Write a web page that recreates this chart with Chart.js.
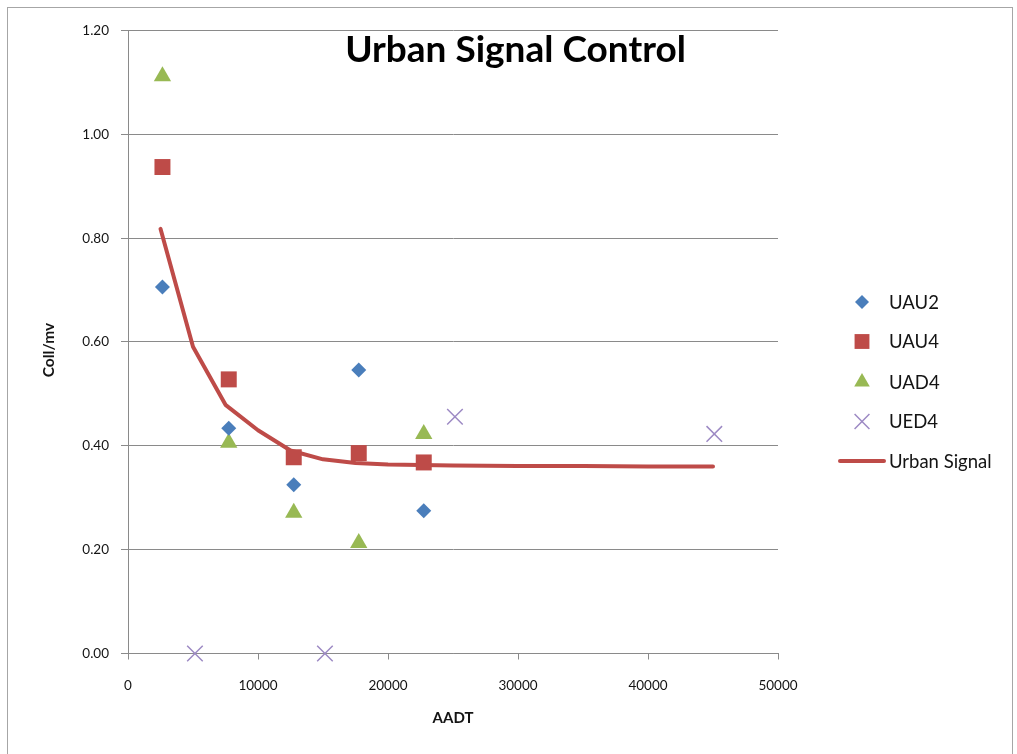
<!DOCTYPE html>
<html>
<head>
<meta charset="utf-8">
<script src="https://cdn.jsdelivr.net/npm/chart.js@4/dist/chart.umd.min.js"></script>
<style>
  html, body { margin: 0; padding: 0; background: #ffffff; }
  #wrap { width: 1017px; height: 754px; position: relative; }
</style>
</head>
<body>
<div id="wrap"><canvas id="chart" width="1017" height="754"></canvas></div>
<script>
// Observed collision rates (collisions per million vehicles) by AADT group
const uau2X = [2650, 7750, 12750, 17750, 22750];
const uau2Y = [0.706, 0.434, 0.325, 0.546, 0.275];

const uau4X = [2650, 7750, 12750, 17750, 22750];
const uau4Y = [0.937, 0.528, 0.378, 0.386, 0.368];

const uad4X = [2650, 7750, 12750, 17750, 22750];
const uad4Y = [1.112, 0.406, 0.271, 0.213, 0.423];

const ued4X = [5150, 15150, 25150, 45100];
const ued4Y = [0.0, 0.0, 0.456, 0.423];

// Fitted urban signal curve
const curveX = [2500, 5000, 7500, 10000, 12500, 15000, 17500, 20000, 22500, 25000, 30000, 35000, 40000, 45000];
const curveY = [0.818, 0.591, 0.479, 0.430, 0.391, 0.374, 0.367, 0.364, 0.363, 0.362, 0.361, 0.361, 0.360, 0.360];

const xTickLabels = ['0', '10000', '20000', '30000', '40000', '50000'];
const yTickLabels = ['0.00', '0.20', '0.40', '0.60', '0.80', '1.00', '1.20'];

const chartTitle = 'Urban Signal Control';
const xTitle = 'AADT';
const yTitle = 'Coll/mv';

const pts = (xs, ys) => xs.map((x, i) => ({ x: x, y: ys[i] }));

const FONT = 'Lato, "Open Sans", sans-serif';
const TEXT = '#141414';
const GRID = '#8a8a8a';

// Frame around the whole chart, the title inside the plot and the vertical axis title
const framePlugin = {
  id: 'frame',
  beforeDraw(chart) {
    const ctx = chart.ctx;
    ctx.save();
    ctx.fillStyle = '#ffffff';
    ctx.fillRect(0, 0, chart.width, chart.height);
    ctx.strokeStyle = '#a6a6a6';
    ctx.lineWidth = 1;
    ctx.strokeRect(7.5, 7.5, 1005, 770);
    ctx.restore();
  },
  afterDraw(chart) {
    const ctx = chart.ctx;
    ctx.save();
    ctx.fillStyle = '#000000';
    ctx.font = 'bold 37px ' + FONT;
    ctx.textAlign = 'center';
    ctx.textBaseline = 'alphabetic';
    ctx.fillText(chartTitle, 515.5, 62);

    ctx.translate(49, 350);
    ctx.rotate(-Math.PI / 2);
    ctx.font = 'bold 15.5px ' + FONT;
    ctx.fillStyle = TEXT;
    ctx.textBaseline = 'middle';
    ctx.fillText(yTitle, 0, 0);
    ctx.restore();
  }
};

// Legend on the right, one row per dataset
const legendPlugin = {
  id: 'sideLegend',
  afterDraw(chart) {
    const ctx = chart.ctx;
    const rows = [302, 341.5, 382, 421.5, 461];
    ctx.save();
    ctx.font = '18.5px ' + FONT;
    ctx.fillStyle = TEXT;
    ctx.textBaseline = 'middle';
    ctx.textAlign = 'left';
    chart.data.datasets.forEach((ds, i) => {
      const y = rows[i];
      if (ds.showLine) {
        ctx.save();
        ctx.strokeStyle = ds.borderColor;
        ctx.lineWidth = ds.borderWidth;
        ctx.lineCap = 'round';
        ctx.beginPath();
        ctx.moveTo(840, y);
        ctx.lineTo(884, y);
        ctx.stroke();
        ctx.restore();
      } else {
        ctx.save();
        ctx.fillStyle = ds.backgroundColor;
        ctx.strokeStyle = ds.borderColor;
        ctx.lineWidth = ds.borderWidth;
        Chart.helpers.drawPoint(ctx, {
          pointStyle: ds.pointStyle,
          radius: ds.legendRadius,
          rotation: 0,
          borderWidth: ds.borderWidth
        }, 862, y);
        ctx.restore();
      }
      ctx.fillStyle = TEXT;
      ctx.fillText(ds.label, 889, y + 1);
    });
    ctx.restore();
  }
};

new Chart(document.getElementById('chart'), {
  type: 'scatter',
  data: {
    datasets: [
      {
        label: 'UAU2', data: pts(uau2X, uau2Y),
        pointStyle: 'rectRot', pointRadius: 7.5, pointHoverRadius: 7.5, legendRadius: 7,
        backgroundColor: '#4a7ebb', borderColor: '#4a7ebb', borderWidth: 0,
        clip: false, order: 1
      },
      {
        label: 'UAU4', data: pts(uau4X, uau4Y),
        pointStyle: 'rect', pointRadius: 11.3, pointHoverRadius: 11.3, legendRadius: 10.5,
        backgroundColor: '#be4b48', borderColor: '#be4b48', borderWidth: 0,
        clip: false, order: 1
      },
      {
        label: 'UAD4', data: pts(uad4X, uad4Y),
        pointStyle: 'triangle', pointRadius: 10, pointHoverRadius: 10, legendRadius: 9,
        backgroundColor: '#98b954', borderColor: '#98b954', borderWidth: 0,
        clip: false, order: 1
      },
      {
        label: 'UED4', data: pts(ued4X, ued4Y),
        pointStyle: 'crossRot', pointRadius: 11, pointHoverRadius: 11, legendRadius: 10.5,
        backgroundColor: '#9d8ac4', borderColor: '#9d8ac4', borderWidth: 1.5,
        clip: false, order: 1
      },
      {
        type: 'line',
        label: 'Urban Signal', data: pts(curveX, curveY),
        showLine: true, borderColor: '#be4b48', backgroundColor: '#be4b48',
        borderWidth: 4, pointRadius: 0, pointHoverRadius: 0, tension: 0,
        borderCapStyle: 'round', borderJoinStyle: 'round',
        fill: false, clip: false, order: 10
      }
    ]
  },
  options: {
    responsive: false,
    animation: false,
    devicePixelRatio: 1,
    layout: { padding: { top: 30.5, right: 239, left: 0, bottom: 0 } },
    plugins: {
      legend: { display: false },
      title: { display: false },
      tooltip: { enabled: false }
    },
    events: [],
    scales: {
      x: {
        type: 'linear', min: 0, max: 50000,
        afterFit: s => { s.height = 100.5; },
        afterBuildTicks: s => { s.ticks = xTickLabels.map((t, i) => ({ value: i * 10000 })); },
        ticks: {
          callback: (v, i) => xTickLabels[i],
          color: TEXT, font: { family: FONT, size: 13.5 }, padding: 18, maxRotation: 0
        },
        grid: { drawOnChartArea: false, drawTicks: true, tickLength: 6, color: GRID, lineWidth: 1 },
        border: { display: true, color: GRID, width: 1 },
        title: {
          display: true, text: xTitle, color: TEXT,
          font: { family: FONT, size: 15, weight: 'bold' },
          padding: { top: 0, bottom: 27 }
        }
      },
      y: {
        type: 'linear', min: 0, max: 1.2,
        afterFit: s => { s.width = 128; },
        afterBuildTicks: s => { s.ticks = yTickLabels.map((t, i) => ({ value: i * 0.2 })); },
        ticks: {
          callback: (v, i) => yTickLabels[i],
          color: TEXT, font: { family: FONT, size: 13.5 }, padding: 12
        },
        grid: { drawOnChartArea: true, drawTicks: true, tickLength: 7, color: GRID, lineWidth: 1 },
        border: { display: true, color: GRID, width: 1 },
        title: { display: false }
      }
    }
  },
  plugins: [framePlugin, legendPlugin]
});
</script>
</body>
</html>
